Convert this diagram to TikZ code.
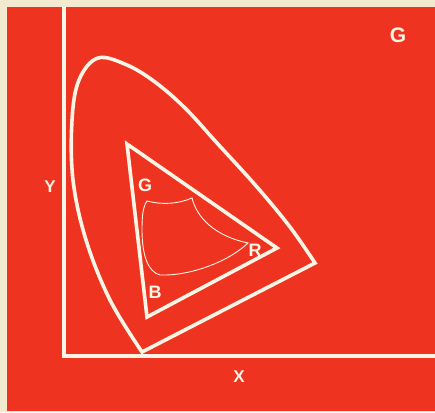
\documentclass[tikz,border=0pt]{standalone}
\usepackage{fontspec}
\setmainfont{Liberation Sans}
\definecolor{bgred}{RGB}{238,52,32}
\definecolor{cream}{RGB}{242,234,208}
\definecolor{linew}{RGB}{252,244,228}
\begin{document}
\begin{tikzpicture}[x=1pt,y=-1pt,
  lbl/.style={text=linew,font=\bfseries\fontsize{17}{17}\selectfont,inner sep=0pt},
  inlbl/.style={lbl,font=\bfseries\fontsize{18}{18}\selectfont},
  thick line/.style={draw=linew,line width=3.6pt,line join=miter},
  axis line/.style={draw=linew,line width=4.5pt}]
\useasboundingbox (0,0) rectangle (435,412);
\fill[cream] (0,0) rectangle (435,412);
\fill[bgred] (7,7) rectangle (435,411);
% axes
\draw[axis line] (64,7) -- (64,356) -- (435,356);
% spectral locus
\draw[thick line] plot[smooth,tension=0.6] coordinates {(142,352) (110,300) (86,240) (73,180) (72,120) (79,80) (98,58) (127,65) (155,82) (185,108) (217,143) (257,187) (290,227) (315,263)} -- cycle;
% gamut triangle
\draw[thick line] (127,144) -- (277,248) -- (147,317) -- cycle;
% inner gamut
\draw[linew,line width=0.9pt] (147,201) .. controls (162,205) and (178,204) .. (192,198)
  .. controls (197,218) and (215,236) .. (248,243)
  .. controls (228,262) and (190,276) .. (160,275)
  .. controls (148,272) and (142,255) .. (142,230)
  .. controls (142,215) and (143,207) .. (147,201) -- cycle;
% labels
\node[lbl,font=\bfseries\fontsize{21}{21}\selectfont] (gtop) at (398,35) {G};
\node[lbl] (ylab) at (50,187) {Y};
\node[lbl] (xlab) at (239,377) {X};
\node[inlbl] (gin) at (145,185) {G};
\node[inlbl] (rin) at (255,250) {R};
\node[inlbl] (bin) at (155,292) {B};
\end{tikzpicture}
\end{document}
